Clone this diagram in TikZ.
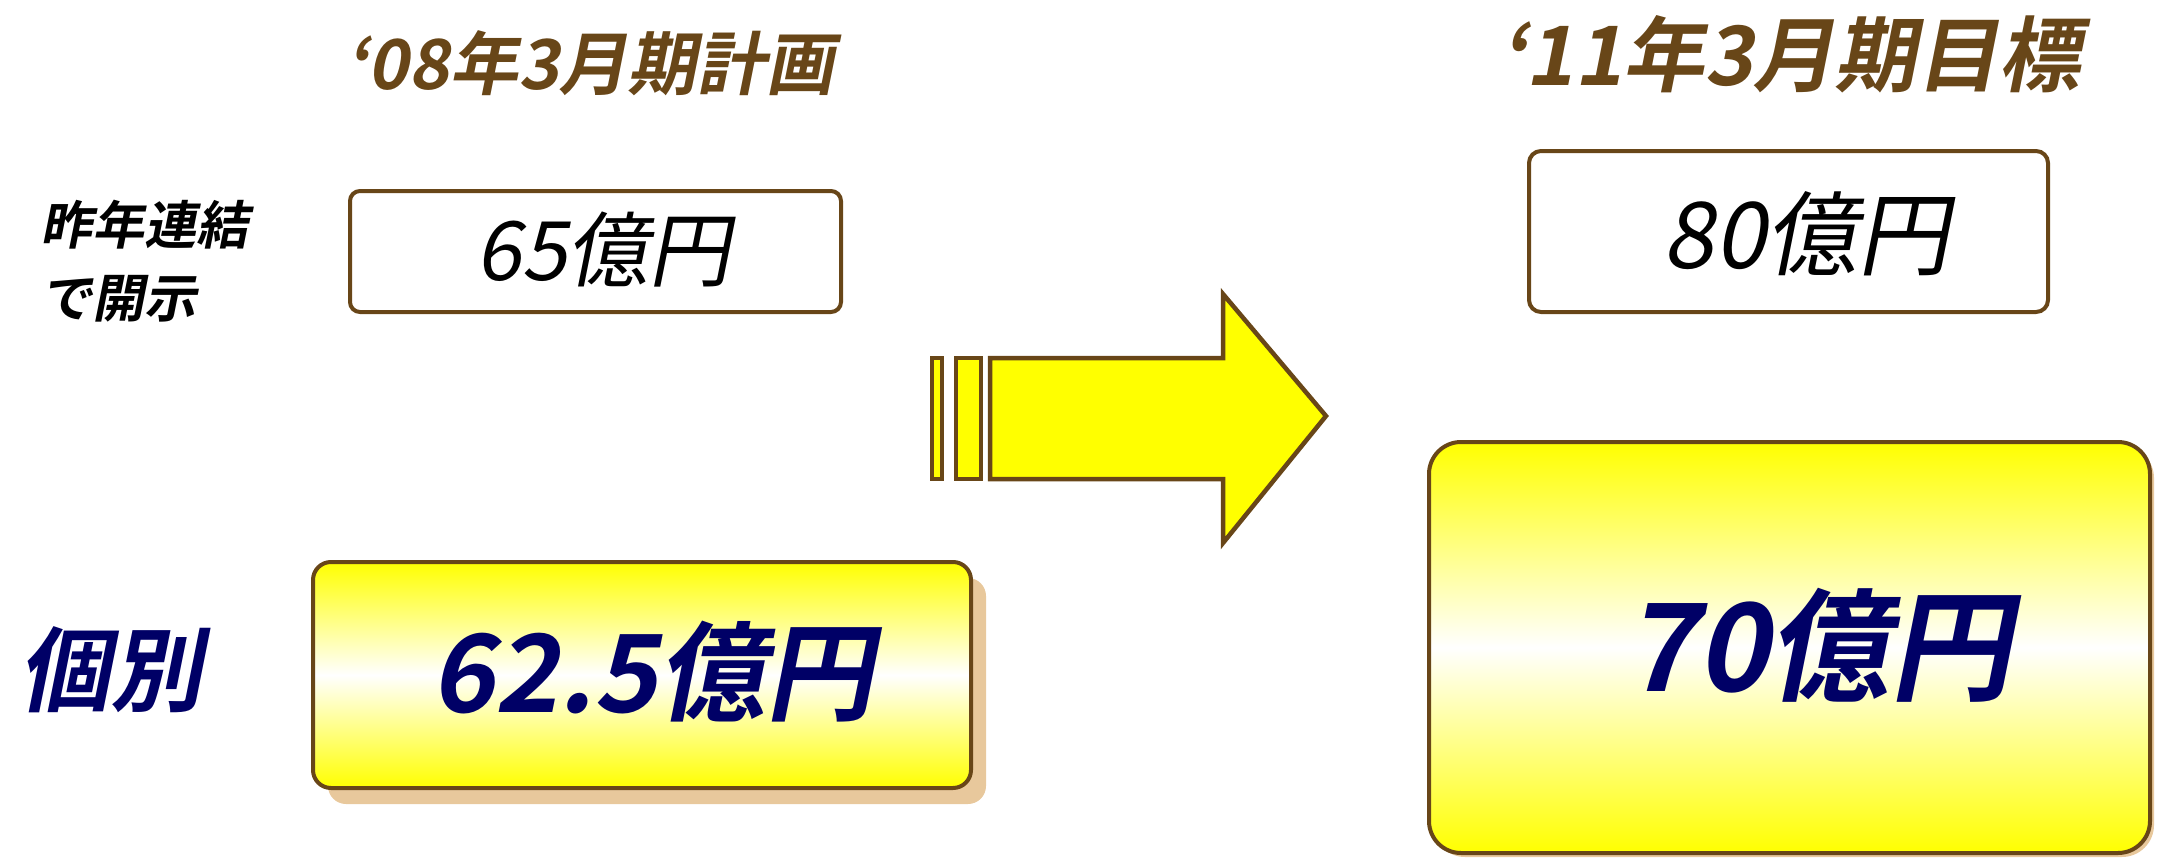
\documentclass[tikz,border=0pt]{standalone}
\usepackage{fontspec}
\usetikzlibrary{shadows}
\newfontfamily\jp[FakeSlant=0.2]{Noto Sans CJK JP}
\newfontfamily\jpb[FakeSlant=0.2]{Noto Sans CJK JP Bold}
\definecolor{brn}{RGB}{104,70,24}
\definecolor{txtnavy}{RGB}{0,0,102}
\definecolor{shad}{RGB}{232,200,156}
\definecolor{yel}{RGB}{255,255,0}
\begin{document}
\begin{tikzpicture}[x=1pt,y=-1pt,
  box/.style={draw=brn, line width=4pt, rounded corners=#1, inner sep=0pt},
  whitebox/.style={box=#1, fill=white},
  goldbox/.style={box=#1, top color=yel, bottom color=yel, middle color=white},
  title/.style={text=brn, inner sep=0pt},
  arrowpart/.style={draw=brn, fill=yel, line width=4.5pt, line join=miter}]
\useasboundingbox (0,0) rectangle (2158,859);
% titles
\node[title, font=\jpb\fontsize{69}{80}\selectfont] (t1) at (590,63) {‘08年3月期計画};
\node[title, font=\jpb\fontsize{82}{90}\selectfont] (t2) at (1790,54) {‘11年3月期目標};
% left labels
\node[anchor=west, align=left, inner sep=0pt, font=\jpb\fontsize{52}{73}\selectfont] (lab) at (40,261) {昨年連結\\で開示};
\node[text=txtnavy, inner sep=0pt, font=\jpb\fontsize{92}{100}\selectfont] (kb) at (110,670) {個別};
% white boxes
\node[whitebox=10pt, minimum width=491pt, minimum height=121pt] (b1) at (595.5,251.5) {};
\node[inner sep=0pt, font=\jp\fontsize{82}{90}\selectfont] (n65) at (603,250) {65億円};
\node[whitebox=12pt, minimum width=519pt, minimum height=161pt] (b2) at (1788.5,231.5) {};
\node[inner sep=0pt, font=\jp\fontsize{92}{100}\selectfont] (n80) at (1806,234) {80億円};
% gold boxes
\node[goldbox=18pt, minimum width=658pt, minimum height=226pt,
  drop shadow={shadow xshift=15pt, shadow yshift=-16pt, fill=shad, opacity=1}] (b3) at (642,675) {};
\node[text=txtnavy, inner sep=0pt, font=\jpb\fontsize{108}{120}\selectfont] (n625) at (652,672) {62.5億円};
\node[goldbox=32pt, minimum width=721pt, minimum height=411pt,
  drop shadow={shadow xshift=4pt, shadow yshift=-4pt, fill=shad, opacity=1}] (b4) at (1789.5,647.5) {};
\node[text=txtnavy, inner sep=0pt, font=\jpb\fontsize{122}{130}\selectfont] (n70) at (1818,645) {70億円};
% arrow
\draw[arrowpart] (932,358) rectangle (942,479);
\draw[arrowpart] (956,358) rectangle (981,479);
\draw[arrowpart] (990,358) -- (1223,358) -- (1223,294) -- (1326,416) -- (1223,543) -- (1223,479) -- (990,479) -- cycle;
\end{tikzpicture}
\end{document}
